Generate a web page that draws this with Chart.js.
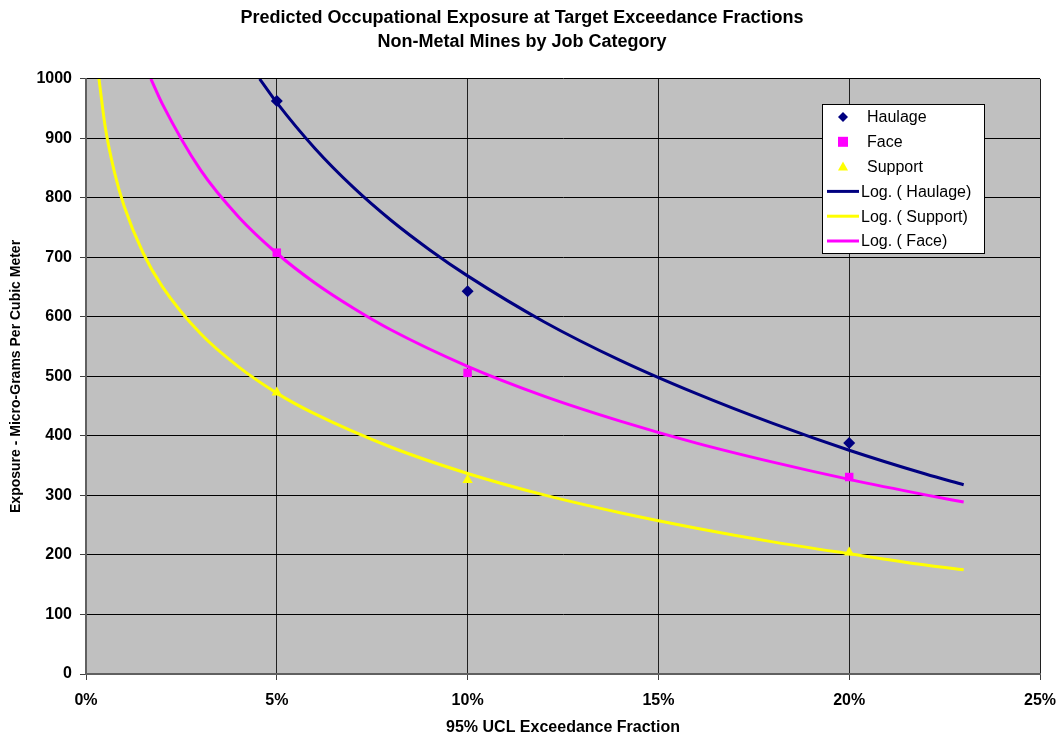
<!DOCTYPE html>
<html>
<head>
<meta charset="utf-8">
<script src="https://cdn.jsdelivr.net/npm/chart.js@4/dist/chart.umd.min.js"></script>
<style>
  html, body { margin: 0; padding: 0; background: #fff; }
  #wrap { width: 1062px; height: 742px; position: relative; }
</style>
</head>
<body>
<div id="wrap"><canvas id="chart"></canvas></div>
<script>
// measured points (exceedance fraction in %)
var fractions = [5, 10, 20];
var haulage = [963, 643, 388];
var face = [708, 506, 331];
var support = [473, 326, 204];

// log trendlines
var haulageTrendX = [4.55, 5, 6, 7, 8, 9, 10, 12, 14, 16, 18, 20, 22, 23];
var haulageTrendY = [1000, 960, 883, 818, 762, 713, 669, 592, 527, 471, 421, 376, 336, 318];
var faceTrendX = [1.7, 2, 3, 4, 5, 6, 7, 8, 10, 12, 14, 16, 18, 20, 22, 23];
var faceTrendY = [1000, 958, 847, 768, 707, 657, 615, 578, 517, 467, 425, 388, 356, 327, 301, 289];
var supportTrendX = [0.34, 0.5, 0.75, 1, 1.5, 2, 3, 4, 5, 6, 8, 10, 12, 14, 16, 18, 20, 22, 23];
var supportTrendY = [1000, 921, 842, 786, 707, 651, 572, 516, 472, 437, 381, 337, 301, 271, 245, 222, 202, 183, 175];

var xTicks = [0, 5, 10, 15, 20, 25];

function pts(xs, ys) {
    return xs.map(function (x, i) { return { x: x, y: ys[i] }; });
}

var font = "'Liberation Sans', Arial, sans-serif";

var plotBg = {
    id: 'plotBg',
    beforeDraw: function (chart) {
        var a = chart.chartArea, ctx = chart.ctx;
        ctx.save();
        ctx.fillStyle = '#c0c0c0';
        ctx.fillRect(a.left, a.top, a.right - a.left, a.bottom - a.top);
        ctx.restore();
    },
    afterDraw: function (chart) {
        // legend box inside the plot
        var ctx = chart.ctx;
        var x0 = 822, y0 = 104, w = 162, h = 149;
        ctx.save();
        ctx.fillStyle = '#fff';
        ctx.fillRect(x0, y0, w, h);
        ctx.strokeStyle = '#000';
        ctx.lineWidth = 1;
        ctx.strokeRect(x0 + 0.5, y0 + 0.5, w, h);
        ctx.font = '16px ' + font;
        ctx.textBaseline = 'middle';
        chart.data.datasets.forEach(function (ds, row) {
            var cy = 117 + row * 24.8;
            if (ds.showLine) {
                ctx.strokeStyle = ds.borderColor;
                ctx.lineWidth = 3;
                ctx.beginPath();
                ctx.moveTo(827, cy);
                ctx.lineTo(859, cy);
                ctx.stroke();
                ctx.fillStyle = '#000';
                ctx.fillText(ds.label, 861, cy + 1);
            } else {
                ctx.fillStyle = ds.backgroundColor;
                var cx = 843;
                ctx.beginPath();
                if (ds.pointStyle === 'rectRot') {
                    ctx.moveTo(cx, cy - 5); ctx.lineTo(cx + 5, cy); ctx.lineTo(cx, cy + 5); ctx.lineTo(cx - 5, cy);
                } else if (ds.pointStyle === 'rect') {
                    ctx.rect(cx - 5, cy - 5, 10, 10);
                } else {
                    ctx.moveTo(cx, cy - 5); ctx.lineTo(cx + 5, cy + 4); ctx.lineTo(cx - 5, cy + 4);
                }
                ctx.fill();
                ctx.fillStyle = '#000';
                ctx.fillText(ds.label, 867, cy + 1);
            }
        });
        ctx.restore();
    }
};

new Chart(document.getElementById('chart'), {
    type: 'scatter',
    data: {
        datasets: [
            { label: 'Haulage', data: pts(fractions, haulage), pointStyle: 'rectRot', pointRadius: 6,
              backgroundColor: '#000080', borderColor: '#000080', borderWidth: 0 },
            { label: 'Face', data: pts(fractions, face), pointStyle: 'rect', pointRadius: 6,
              backgroundColor: '#ff00ff', borderColor: '#ff00ff', borderWidth: 0 },
            { label: 'Support', data: pts(fractions, support), pointStyle: 'triangle', pointRadius: 6,
              backgroundColor: '#ffff00', borderColor: '#ffff00', borderWidth: 0 },
            { label: 'Log. ( Haulage)', data: pts(haulageTrendX, haulageTrendY), showLine: true,
              borderColor: '#000080', borderWidth: 3, pointRadius: 0, cubicInterpolationMode: 'monotone' },
            { label: 'Log. ( Support)', data: pts(supportTrendX, supportTrendY), showLine: true,
              borderColor: '#ffff00', borderWidth: 3, pointRadius: 0, cubicInterpolationMode: 'monotone' },
            { label: 'Log. ( Face)', data: pts(faceTrendX, faceTrendY), showLine: true,
              borderColor: '#ff00ff', borderWidth: 3, pointRadius: 0, cubicInterpolationMode: 'monotone' }
        ]
    },
    options: {
        responsive: true,
        maintainAspectRatio: false,
        animation: false,
        layout: { padding: { left: 4, right: 22, top: 0, bottom: 1 } },
        plugins: {
            legend: { display: false },
            tooltip: { enabled: false },
            title: {
                display: true,
                text: ['Predicted Occupational Exposure at Target Exceedance Fractions', 'Non-Metal Mines by Job Category'],
                color: '#000',
                font: { family: font, size: 18, weight: 'bold', lineHeight: 1.33 },
                padding: { top: 6, bottom: 25 }
            }
        },
        scales: {
            x: {
                type: 'linear',
                min: 0, max: 25,
                afterBuildTicks: function (axis) {
                    axis.ticks = xTicks.map(function (v) { return { value: v }; });
                },
                ticks: {
                    color: '#000',
                    font: { family: font, size: 16, weight: 'bold' },
                    padding: 11,
                    callback: function (v) { return v + '%'; }
                },
                grid: { color: '#202020', lineWidth: 1, tickLength: 6, tickColor: '#404040' },
                border: { color: '#606060', width: 2 },
                title: {
                    display: true, text: '95% UCL Exceedance Fraction', color: '#000',
                    font: { family: font, size: 16, weight: 'bold' }, padding: { top: 8 }
                },
                afterFit: function (axis) {
                    axis.height = 67;
                    axis.paddingRight = 0;
                    axis.paddingLeft = 0;
                }
            },
            y: {
                min: 0, max: 1000,
                ticks: {
                    stepSize: 100, color: '#000',
                    font: { family: font, size: 16, weight: 'bold' },
                    padding: 8,
                    callback: function (v) { return String(v); }
                },
                grid: { color: '#000', lineWidth: 1, tickLength: 6, tickColor: '#404040' },
                border: { color: '#606060', width: 2 },
                title: {
                    display: true, text: 'Exposure - Micro-Grams Per Cubic Meter', color: '#000',
                    font: { family: font, size: 14, weight: 'bold' }, padding: { bottom: 6 }
                },
                afterFit: function (axis) { axis.width = 82; }
            }
        }
    },
    plugins: [plotBg]
});
</script>
</body>
</html>
